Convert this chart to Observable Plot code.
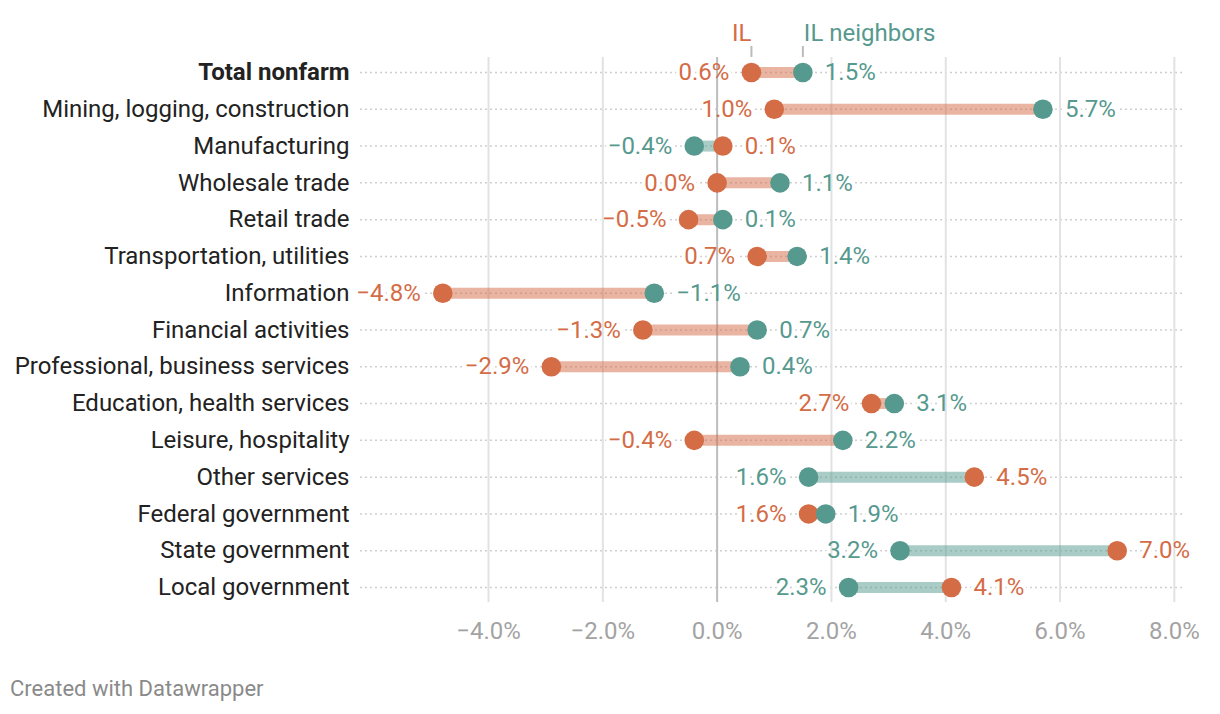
<!DOCTYPE html>
<html>
<head>
<meta charset="utf-8">
<script src="https://cdn.jsdelivr.net/npm/d3@7"></script>
<script src="https://cdn.jsdelivr.net/npm/@observablehq/plot@0.6"></script>
<style>
  html, body { margin: 0; padding: 0; background: #fff; }
  body { width: 1220px; height: 714px; position: relative; font-family: Roboto, sans-serif; }
  #chart { position: absolute; left: 0; top: 0; }
  #caption { position: absolute; left: 10px; top: 676px; font-size: 22px; color: #8a8a8a; font-family: Roboto, sans-serif; }
</style>
</head>
<body>
<div id="chart"></div>
<div id="caption">Created with Datawrapper</div>
<script>
const categories = [
  "Total nonfarm",
  "Mining, logging, construction",
  "Manufacturing",
  "Wholesale trade",
  "Retail trade",
  "Transportation, utilities",
  "Information",
  "Financial activities",
  "Professional, business services",
  "Education, health services",
  "Leisure, hospitality",
  "Other services",
  "Federal government",
  "State government",
  "Local government"
];
const ilValues =        [0.6, 1.0, 0.1, 0.0, -0.5, 0.7, -4.8, -1.3, -2.9, 2.7, -0.4, 4.5, 1.6, 7.0, 4.1];
const neighborValues =  [1.5, 5.7, -0.4, 1.1, 0.1, 1.4, -1.1, 0.7, 0.4, 3.1, 2.2, 1.6, 1.9, 3.2, 2.3];
const xTicks = [-4, -2, 0, 2, 4, 6, 8];
const seriesNames = ["IL", "IL neighbors"];

const ORANGE = "#d46c46";
const TEAL = "#56998e";
const FS = 24;

const rows = categories.map((c, i) => ({cat: c, il: ilValues[i], nb: neighborValues[i]}));
const pts = [];
rows.forEach(r => {
  const ilLeft = r.il <= r.nb;
  pts.push({cat: r.cat, value: r.il, color: ORANGE, left: ilLeft});
  pts.push({cat: r.cat, value: r.nb, color: TEAL, left: !ilLeft});
});
const fmt = d3.format(".1f");
const leftPts = pts.filter(d => d.left);
const rightPts = pts.filter(d => !d.left);

const labelOpts = (arr, anchor, dx, halo) => Plot.text(arr, {
  x: "value", y: "cat", text: d => fmt(d.value) + "%",
  textAnchor: anchor, dx: dx, fontSize: FS,
  fill: halo ? "white" : "color",
  stroke: halo ? "white" : null, strokeWidth: halo ? 7 : null
});

const chart = Plot.plot({
  width: 1220,
  height: 655,
  marginLeft: 360,
  marginRight: 35,
  marginTop: 57,
  marginBottom: 53,
  style: {fontFamily: "Roboto, sans-serif", fontSize: FS + "px", background: "white"},
  x: {domain: [-6.24, 8.195]},
  y: {type: "point", domain: categories, range: [72, 587], padding: 0, round: false},
  color: {type: "identity"},
  marks: [
    Plot.ruleY(categories, {y: d => d, stroke: "#cfcfcf", strokeWidth: 1.5, strokeDasharray: "2,3"}),
    labelOpts(leftPts, "end", -22, true),
    labelOpts(rightPts, "start", 22, true),
    Plot.ruleX(xTicks.filter(t => t !== 0), {x: d => d, stroke: "#e2e2e2", strokeWidth: 2}),
    Plot.ruleX([0], {x: d => d, stroke: "#bdbdbd", strokeWidth: 2}),
    Plot.ruleY(rows, {
      y: "cat", x1: d => Math.min(d.il, d.nb), x2: d => Math.max(d.il, d.nb),
      stroke: d => d.il <= d.nb ? ORANGE : TEAL, strokeOpacity: 0.5, strokeWidth: 11
    }),
    Plot.dot(pts, {x: "value", y: "cat", r: 9.8, fill: "color", stroke: null}),
    labelOpts(leftPts, "end", -22, false),
    labelOpts(rightPts, "start", 22, false),
    // legend labels attached to first row
    Plot.ruleX([rows[0]], {x: "il", y1: "cat", y2: "cat", insetTop: -26, insetBottom: 15, stroke: "#bbbbbb", strokeWidth: 2}),
    Plot.ruleX([rows[0]], {x: "nb", y1: "cat", y2: "cat", insetTop: -26, insetBottom: 15, stroke: "#bbbbbb", strokeWidth: 2}),
    Plot.text([rows[0]], {x: "il", y: "cat", text: () => seriesNames[0], textAnchor: "end", dy: -39, dx: 0, fill: ORANGE, fontSize: 24}),
    Plot.text([rows[0]], {x: "nb", y: "cat", text: () => seriesNames[1], textAnchor: "start", dy: -39, dx: 1, fill: TEAL, fontSize: 24}),
    Plot.axisY({ticks: categories.slice(1), tickSize: 0, tickPadding: 11, fontSize: FS, color: "#222", label: null}),
    Plot.axisY({ticks: [categories[0]], tickSize: 0, tickPadding: 11, fontSize: FS, color: "#222", fontWeight: "bold", label: null}),
    Plot.axisX({ticks: xTicks, tickFormat: d => fmt(d) + "%", tickSize: 0, tickPadding: 19, fontSize: 24, color: "#a3a3a3", label: null})
  ]
});
document.getElementById("chart").appendChild(chart);
</script>
</body>
</html>
